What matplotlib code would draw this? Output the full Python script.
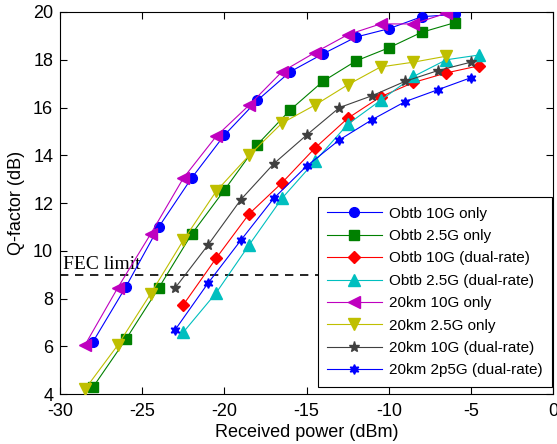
import matplotlib
matplotlib.use('Agg')
import matplotlib.pyplot as plt

plt.rcParams['font.family'] = ['Liberation Sans', 'DejaVu Sans']
plt.rcParams['font.size'] = 13
plt.rcParams['axes.unicode_minus'] = False

# ---- data ----
x_obtb_10g = [-28, -26, -24, -22, -20, -18, -16, -14, -12, -10, -8, -6]
y_obtb_10g = [6.2, 8.5, 11.0, 13.05, 14.85, 16.3, 17.5, 18.25, 18.95, 19.3, 19.8, 19.9]

x_obtb_25g = [-28, -26, -24, -22, -20, -18, -16, -14, -12, -10, -8, -6]
y_obtb_25g = [4.3, 6.3, 8.45, 10.7, 12.55, 14.45, 15.9, 17.1, 17.95, 18.5, 19.15, 19.55]

x_obtb_10g_dual = [-22.5, -20.5, -18.5, -16.5, -14.5, -12.5, -10.5, -8.5, -6.5, -4.5]
y_obtb_10g_dual = [7.75, 9.7, 11.55, 12.85, 14.3, 15.55, 16.45, 17.05, 17.45, 17.75]

x_obtb_25g_dual = [-22.5, -20.5, -18.5, -16.5, -14.5, -12.5, -10.5, -8.5, -6.5, -4.5]
y_obtb_25g_dual = [6.6, 8.25, 10.25, 12.2, 13.75, 15.3, 16.3, 17.3, 18.0, 18.2]

x_20km_10g = [-28.5, -26.5, -24.5, -22.5, -20.5, -18.5, -16.5, -14.5, -12.5, -10.5, -8.5, -6.5]
y_20km_10g = [6.05, 8.45, 10.7, 13.05, 14.8, 16.1, 17.5, 18.3, 19.05, 19.5, 19.5, 19.95]

x_20km_25g = [-28.5, -26.5, -24.5, -22.5, -20.5, -18.5, -16.5, -14.5, -12.5, -10.5, -8.5, -6.5]
y_20km_25g = [4.2, 6.05, 8.2, 10.45, 12.5, 14.0, 15.35, 16.1, 16.95, 17.7, 17.9, 18.15]

x_20km_10g_dual = [-23, -21, -19, -17, -15, -13, -11, -9, -7, -5]
y_20km_10g_dual = [8.45, 10.25, 12.15, 13.65, 14.85, 16.0, 16.5, 17.1, 17.55, 17.9]

x_20km_25g_dual = [-23, -21, -19, -17, -15, -13, -11, -9, -7, -5]
y_20km_25g_dual = [6.7, 8.65, 10.45, 12.2, 13.55, 14.65, 15.5, 16.25, 16.75, 17.25]

fec_limit = 9

series = [
    (x_obtb_10g, y_obtb_10g, 'Obtb 10G only', '#0000FF', 'o', 7),
    (x_obtb_25g, y_obtb_25g, 'Obtb 2.5G only', '#008000', 's', 7),
    (x_obtb_10g_dual, y_obtb_10g_dual, 'Obtb 10G (dual-rate)', '#FF0000', 'D', 6),
    (x_obtb_25g_dual, y_obtb_25g_dual, 'Obtb 2.5G (dual-rate)', '#00BFBF', '^', 8),
    (x_20km_10g, y_20km_10g, '20km 10G only', '#BF00BF', '<', 8),
    (x_20km_25g, y_20km_25g, '20km 2.5G only', '#BFBF00', 'v', 8),
    (x_20km_10g_dual, y_20km_10g_dual, '20km 10G (dual-rate)', '#404040', '*', 8),
    (x_20km_25g_dual, y_20km_25g_dual, '20km 2p5G (dual-rate)', '#0000FF', (6, 1, 0), 7),
]

fig = plt.figure(figsize=(5.57, 4.44), dpi=100)
ax = fig.add_axes([0.108, 0.112, 0.885, 0.861])

ax.axhline(fec_limit, color='black', linestyle='--', linewidth=1.2, dashes=(5, 4), zorder=1)
ax.text(-29.8, 9.25, 'FEC limit', family='Liberation Serif', fontsize=14)

for x, y, label, color, marker, ms in series:
    ax.plot(x, y, color=color, marker=marker, markersize=ms, linewidth=0.8,
            markeredgecolor=color, markerfacecolor=color, label=label, zorder=3)

ax.set_xlim(-30, 0)
ax.set_ylim(4, 20)
ax.set_xticks(range(-30, 1, 5))
ax.set_yticks(range(4, 21, 2))
ax.tick_params(direction='in', top=True, right=True, labelsize=13, length=5)
ax.tick_params(axis='x', pad=6)
ax.tick_params(axis='y', pad=5)
ax.set_xlabel('Received power (dBm)', fontsize=13, labelpad=3)
ax.set_ylabel('Q-factor (dB)', fontsize=13, labelpad=6)

leg = ax.legend(loc='lower right', bbox_to_anchor=(0.997, 0.02), borderaxespad=0,
                fontsize=11, fancybox=False, framealpha=1, edgecolor='black',
                handlelength=3.6, handletextpad=0.45, labelspacing=0.55, borderpad=0.6)
leg.get_frame().set_linewidth(0.8)

fig.savefig('out.png', dpi=100)
